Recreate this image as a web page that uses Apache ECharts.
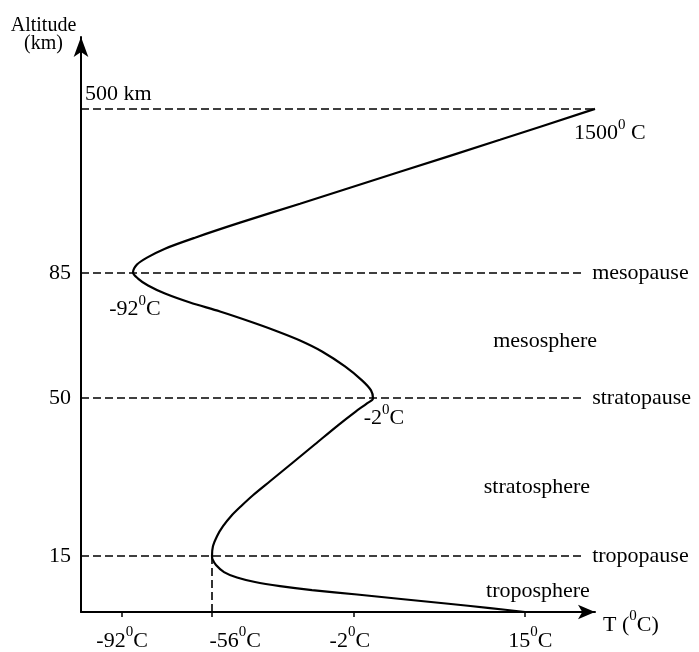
<!DOCTYPE html>
<html><head><meta charset="utf-8">
<script src="https://cdn.jsdelivr.net/npm/echarts@6/dist/echarts.min.js"></script>
<style>html,body{margin:0;padding:0;background:#fff}#c{width:699px;height:652px}</style>
</head><body><div id="c"></div>
<script>
// Schematic (not to scale) axes: x = temperature as drawn (0..100 units), y = altitude as drawn (0..100 units)
const levelAltitudes = ['15', '50', '85', '500 km'];
const levelPos = [9.7, 37.2, 59.0, 87.5];
const levelNames = ['tropopause', 'stratopause', 'mesopause', ''];
const levelLineEnd = [97.5, 97.5, 97.5, 99.6];

const tempTicks = ['-92', '-56', '-2', '15'];
const tempTickPos = [8.0, 25.5, 53.1, 86.4];
const tempLabelPos = [8.0, 30.0, 52.3, 87.4];

// temperature profile (surface -> 500 km)
const curveT = [86.38, 79.57, 71.01, 62.26, 53.70, 44.94, 38.72, 33.85, 30.35, 27.82, 26.26, 25.58, 25.49,
  25.68, 26.46, 27.63, 29.18, 31.13, 33.46, 36.77, 41.05, 45.53, 50.00, 53.50, 55.64, 56.81,
  56.42, 54.67, 51.36, 46.89, 42.61, 37.74, 32.88, 27.04, 21.21, 16.34, 13.04, 11.09, 10.12,
  10.89, 12.84, 16.34, 22.18, 30.93, 42.61, 62.06, 81.52, 100];
const curveH = [0, 0.69, 1.48, 2.26, 3.04, 3.82, 4.51, 5.21, 5.99, 6.94, 8.16, 9.20, 9.72,
  11.46, 13.19, 14.93, 16.67, 18.40, 20.31, 22.74, 25.87, 29.17, 32.47, 34.90, 36.28, 37.15,
  38.54, 40.28, 42.71, 45.31, 47.22, 48.96, 50.52, 52.26, 53.82, 55.38, 56.77, 57.99, 59.03,
  60.42, 61.63, 63.19, 65.10, 67.71, 71.01, 76.56, 82.12, 87.5];

const layerNames = ['troposphere', 'stratosphere', 'mesosphere'];
const layerX = [88.9, 88.7, 90.3];
const layerY = [3.65, 21.7, 47.05];

const extremeTexts = ['1500', '-92', '-2'];
const extremeSep = [' ', '', ''];
const extremeX = [102.9, 10.5, 58.95];
const extremeY = [83.2, 52.6, 33.7];

const FONT = 'Liberation Serif';
const rich = {
  n: { fontFamily: FONT, fontSize: 22, color: '#000', lineHeight: 32 },
  s: { fontFamily: FONT, fontSize: 15, color: '#000', lineHeight: 12, verticalAlign: 'top' }
};
const degLabel = (num, sep) => '{n|' + num + '}{s|0}{n|' + (sep || '') + 'C}';
const nearest = (arr, v) => { let b = 0; arr.forEach((a, i) => { if (Math.abs(a - v) < Math.abs(arr[b] - v)) b = i; }); return b; };

const chart = echarts.init(document.getElementById('c'), null, { renderer: 'canvas' });

const levelLines = levelPos.map((y, i) => {
  const item = [{ coord: [0, y] }, { coord: [levelLineEnd[i], y] }];
  if (i === levelPos.length - 1) {
    item[0].label = { show: true, position: 'insideStartTop', formatter: levelAltitudes[i], distance: 4,
      fontFamily: FONT, fontSize: 22, color: '#000' };
  } else {
    item[0].label = { show: true, position: 'end', formatter: levelNames[i], distance: 10,
      fontFamily: FONT, fontSize: 22, color: '#000' };
  }
  return item;
});
levelLines.push([{ coord: [tempTickPos[1], 0], label: { show: false } }, { coord: [tempTickPos[1], levelPos[0]] }]);

chart.setOption({
  animation: false,
  backgroundColor: '#fff',
  grid: { left: 81, right: 104, top: 37, bottom: 39, containLabel: false },
  xAxis: {
    type: 'value', min: 0, max: 100,
    name: '{n|T (}{s|0}{n|C)}', nameLocation: 'end', nameGap: 8,
    nameTextStyle: { rich: rich, padding: [26, 0, 0, 0] },
    axisLine: { show: true, symbol: ['none', 'arrow'], symbolSize: [11, 17], lineStyle: { color: '#000', width: 2 } },
    axisTick: { show: true, customValues: tempTickPos, length: 5, lineStyle: { color: '#000', width: 1.5 } },
    axisLabel: { show: true, customValues: tempLabelPos, margin: 13, rich: rich,
      formatter: v => degLabel(tempTicks[nearest(tempLabelPos, v)]) },
    splitLine: { show: false }
  },
  yAxis: {
    type: 'value', min: 0, max: 100,
    name: 'Altitude\n(km)', nameLocation: 'end', nameGap: -16,
    nameTextStyle: { fontFamily: FONT, fontSize: 20, color: '#000', lineHeight: 18, align: 'center', padding: [0, 75, 0, 0] },
    axisLine: { show: true, symbol: ['none', 'arrow'], symbolSize: [11, 20], lineStyle: { color: '#000', width: 2 } },
    axisTick: { show: false },
    axisLabel: { show: true, customValues: levelPos.slice(0, 3), margin: 10,
      fontFamily: FONT, fontSize: 22, color: '#000',
      formatter: v => levelAltitudes[nearest(levelPos, v)] },
    splitLine: { show: false }
  },
  series: [
    {
      type: 'line', name: 'levels', data: [], silent: true,
      markLine: { symbol: 'none', silent: true, animation: false,
        lineStyle: { type: [8, 4], color: '#000', width: 1.6 },
        data: levelLines }
    },
    {
      type: 'line', name: 'temperature', clip: false, silent: true,
      data: curveT.map((t, i) => [t, curveH[i]]),
      showSymbol: false, smooth: 0.3,
      lineStyle: { color: '#000', width: 2.2 }
    },
    {
      type: 'scatter', name: 'extremes', clip: false, silent: true, symbolSize: 0,
      itemStyle: { opacity: 1, color: '#000' },
      data: extremeX.map((x, i) => [x, extremeY[i], extremeTexts[i], extremeSep[i]]),
      label: { show: true, position: 'inside', rich: rich, color: '#000',
        formatter: p => degLabel(p.data[2], p.data[3]) }
    },
    {
      type: 'scatter', name: 'layers', clip: false, silent: true, symbolSize: 0,
      itemStyle: { opacity: 1, color: '#000' },
      data: layerX.map((x, i) => [x, layerY[i], layerNames[i]]),
      label: { show: true, position: 'inside', fontFamily: FONT, fontSize: 22, color: '#000',
        formatter: p => p.data[2] }
    }
  ]
});
</script></body></html>
